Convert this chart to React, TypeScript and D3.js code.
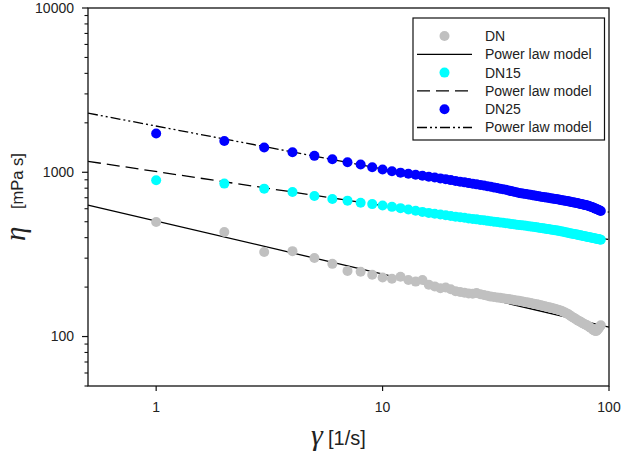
import React from "react";
import * as d3 from "d3";

// Shear rate [1/s]
const shearRate: number[] = Array.from({ length: 92 }, (_, i) => i + 1);

const seriesNames = ["DN", "DN15", "DN25"];

const viscDN: number[] = [
  498, 433, 327, 331, 301, 277, 251, 248, 238, 229,
  225, 231, 221, 216, 221, 207, 202, 197, 199, 194,
  189, 187, 185, 183, 182, 184, 181, 179, 177, 175,
  174, 173, 172, 171, 170, 169, 168, 167, 166, 165,
  164, 163, 162, 161, 160, 159, 158, 157, 156, 155,
  154, 153, 152, 151, 150, 149, 148, 147, 146, 145,
  144, 143, 141, 140, 138, 137, 135, 133, 131, 130,
  128, 127, 125, 124, 123, 121, 120, 119, 118, 117,
  116, 114, 113, 112, 110, 109, 108, 108, 110, 112,
  115, 117,
];

const viscDN15: number[] = [
  894, 853, 795, 758, 717, 687, 672, 653, 640, 628,
  616, 605, 594, 583, 574, 566, 559, 553, 547, 542,
  537, 533, 528, 524, 520, 517, 513, 510, 506, 503,
  500, 498, 495, 493, 490, 488, 485, 483, 480, 478,
  476, 474, 472, 470, 468, 466, 464, 462, 460, 458,
  456, 454, 452, 451, 449, 447, 445, 443, 442, 440,
  438, 436, 434, 432, 430, 428, 426, 424, 422, 421,
  419, 418, 416, 414, 413, 411, 410, 408, 406, 405,
  403, 402, 401, 399, 398, 397, 395, 394, 393, 392,
  390, 389,
];

const viscDN25: number[] = [
  1722, 1552, 1415, 1324, 1259, 1201, 1151, 1114, 1073, 1039,
  1015, 995, 980, 965, 952, 940, 929, 918, 908, 896,
  886, 877, 868, 859, 851, 844, 837, 830, 823, 816,
  809, 802, 795, 788, 782, 775, 768, 761, 755, 748,
  744, 740, 737, 733, 729, 725, 721, 717, 714, 710,
  707, 704, 701, 699, 696, 693, 690, 687, 685, 682,
  679, 676, 674, 671, 668, 666, 663, 660, 658, 655,
  652, 650, 647, 644, 641, 639, 636, 633, 631, 628,
  625, 621, 617, 614, 610, 606, 601, 597, 593, 589,
  585, 581,
];

// Power law model parameters: eta = K * gamma^(n-1)
const modelK: number[] = [505, 1010, 1911];
const modelExp: number[] = [-0.323, -0.207, -0.2616];

const xTicks: number[] = [1, 10, 100];
const yTicks: number[] = [100, 1000, 10000];

const colors = ["#c0c0c0", "#00ffff", "#0000ff"];
const dashes = ["none", "13,6", "10,3,2,3,2,3"];

export default function App() {
  const W = 627;
  const H = 452;
  const left = 88;
  const right = 609;
  const top = 8;
  const bottom = 386;

  const x = d3.scaleLog().domain([0.5, 100]).range([left, right]);
  const y = d3.scaleLog().domain([50, 10000]).range([bottom, top]);

  const allSeries = [viscDN, viscDN15, viscDN25];

  const line = d3
    .line<[number, number]>()
    .x((d) => x(d[0]))
    .y((d) => y(d[1]));

  const [x0, x1] = x.domain();
  const modelLines = modelK.map((K, i) =>
    line([
      [x0, K * Math.pow(x0, modelExp[i])],
      [x1, K * Math.pow(x1, modelExp[i])],
    ])
  );

  // minor y ticks
  const minorY: number[] = [];
  for (let dec = 10; dec <= 1000; dec *= 10) {
    for (let m = 2; m <= 9; m++) {
      const v = m * dec;
      if (v >= 50 && v < 10000) minorY.push(v);
    }
  }

  const font = "'Liberation Sans', Arial, sans-serif";
  const serif = "'Liberation Serif', 'DejaVu Serif', serif";
  const axisColor = "#111";

  // legend layout
  const lgLeft = 413;
  const lgTop = 18;
  const lgRight = 604.5;
  const lgBottom = 140;
  const rowY = [36, 54.3, 72.6, 90.9, 109.2, 127.5];
  const symX0 = 417;
  const symX1 = 472;
  const symCx = 444.5;
  const textX = 485;

  const legendItems: { type: "dot" | "line"; idx: number; label: string }[] = [];
  seriesNames.forEach((n, i) => {
    legendItems.push({ type: "dot", idx: i, label: n });
    legendItems.push({ type: "line", idx: i, label: "Power law model" });
  });

  return (
    <svg
      width={W}
      height={H}
      style={{ position: "absolute", left: 0, top: 0, background: "#fff" }}
    >
      <rect x={0} y={0} width={W} height={H} fill="#fff" />

      {/* model lines */}
      {modelLines.map((d, i) => (
        <path
          key={"m" + i}
          d={d || ""}
          fill="none"
          stroke="#000"
          strokeWidth={1.3}
          strokeDasharray={dashes[i] === "none" ? undefined : dashes[i]}
        />
      ))}

      {/* data points */}
      {allSeries.map((vals, si) => (
        <g key={"s" + si} fill={colors[si]}>
          {vals.map((v, j) => (
            <circle key={j} cx={x(shearRate[j])} cy={y(v)} r={5} />
          ))}
        </g>
      ))}

      {/* frame */}
      <rect
        x={left}
        y={top}
        width={right - left}
        height={bottom - top}
        fill="none"
        stroke={axisColor}
        strokeWidth={1.3}
      />

      {/* y ticks */}
      {yTicks.map((t) => (
        <g key={"yt" + t}>
          <line x1={left - 6} x2={left} y1={y(t)} y2={y(t)} stroke={axisColor} strokeWidth={1.2} />
          <text
            x={74}
            y={y(t)}
            dy="0.35em"
            textAnchor="end"
            fontFamily={font}
            fontSize={14}
            fill="#222"
          >
            {t}
          </text>
        </g>
      ))}
      {minorY.map((t) => (
        <line
          key={"ym" + t}
          x1={left - 3.5}
          x2={left}
          y1={y(t)}
          y2={y(t)}
          stroke={axisColor}
          strokeWidth={1.1}
        />
      ))}

      {/* x ticks */}
      {xTicks.map((t) => (
        <g key={"xt" + t}>
          <line x1={x(t)} x2={x(t)} y1={bottom} y2={bottom + 5} stroke={axisColor} strokeWidth={1.2} />
          <text
            x={x(t)}
            y={412}
            textAnchor="middle"
            fontFamily={font}
            fontSize={14}
            fill="#222"
          >
            {t}
          </text>
        </g>
      ))}

      {/* x title */}
      <text x={311} y={445} fontFamily={serif} fontStyle="italic" fontSize={30} fill="#222">
        γ
      </text>
      <text x={328} y={445} fontFamily={font} fontSize={20} fill="#222">
        [1/s]
      </text>

      {/* y title */}
      <text
        transform="translate(25,241) rotate(-90)"
        fontFamily={serif}
        fontStyle="italic"
        fontSize={29}
        fill="#222"
      >
        η
      </text>
      <text
        transform="translate(23,209) rotate(-90)"
        fontFamily={font}
        fontSize={16.5}
        fill="#222"
      >
        [mPa s]
      </text>

      {/* legend */}
      <rect
        x={lgLeft}
        y={lgTop}
        width={lgRight - lgLeft}
        height={lgBottom - lgTop}
        fill="#fff"
        stroke={axisColor}
        strokeWidth={1.2}
      />
      {legendItems.map((it, k) => (
        <g key={"lg" + k}>
          {it.type === "dot" ? (
            <circle cx={symCx} cy={rowY[k]} r={5} fill={colors[it.idx]} />
          ) : (
            <line
              x1={symX0}
              x2={symX1}
              y1={rowY[k]}
              y2={rowY[k]}
              stroke="#000"
              strokeWidth={1.3}
              strokeDasharray={dashes[it.idx] === "none" ? undefined : dashes[it.idx]}
            />
          )}
          <text
            x={textX}
            y={rowY[k]}
            dy="0.35em"
            fontFamily={font}
            fontSize={14}
            fill="#222"
          >
            {it.label}
          </text>
        </g>
      ))}
    </svg>
  );
}
